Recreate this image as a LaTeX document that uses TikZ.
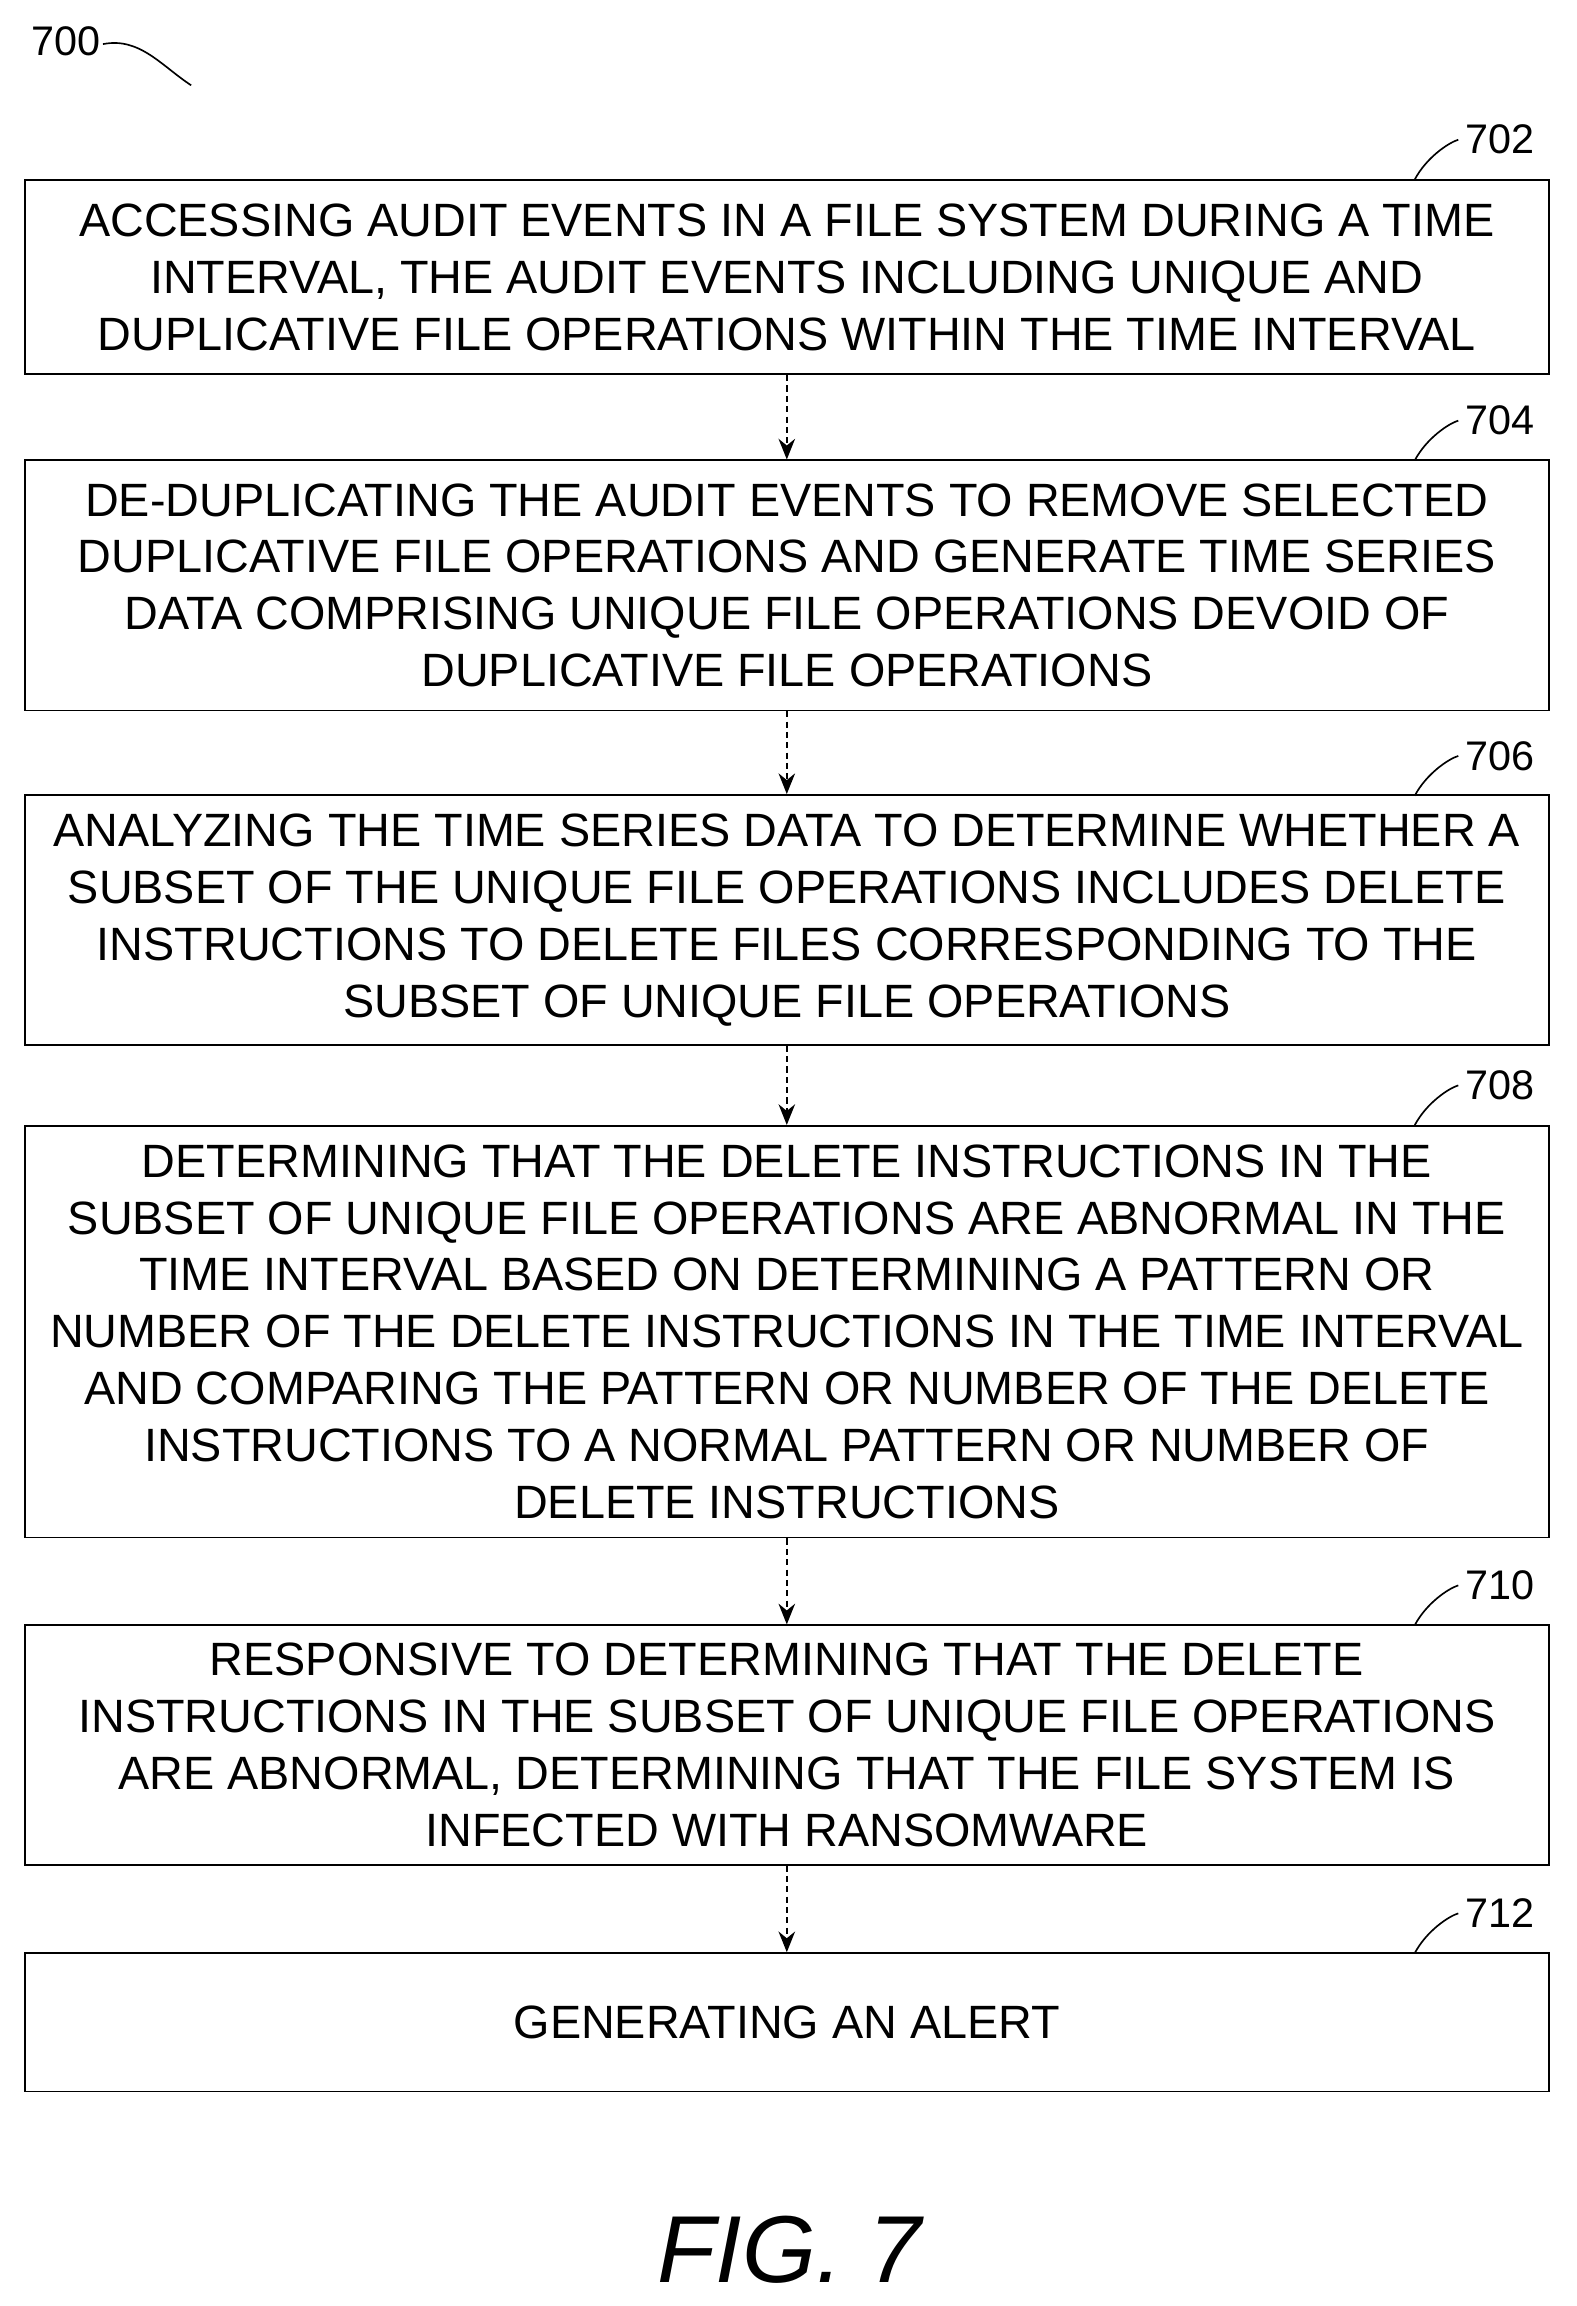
\documentclass[tikz,border=0pt]{standalone}
\usepackage{fontspec}
\setmainfont{Liberation Sans}
\usetikzlibrary{arrows.meta,positioning}
\tikzset{
  stepbox/.style={draw, thick, minimum width=25.9cm, align=center, inner sep=0pt,
    font=\fontsize{22.6}{27.5}\selectfont},
  flow/.style={thick, densely dashed, -{Stealth[length=10pt,width=8pt]}},
  reflabel/.style={font=\fontsize{20}{24}\selectfont}
}
\begin{document}
\begin{tikzpicture}[x=0.025cm, y=-0.025cm]
  \useasboundingbox (0,0) rectangle (1072,1568);

  \node[reflabel] (fig) at (45,28) {700};
  \draw[thick] (70,30) .. controls (95,25) and (110,45) .. (130,58);

  \node[stepbox, minimum height=3.3cm] (s702) at (535,188.5) {ACCESSING AUDIT EVENTS IN A FILE SYSTEM DURING A TIME\\INTERVAL, THE AUDIT EVENTS INCLUDING UNIQUE AND\\DUPLICATIVE FILE OPERATIONS WITHIN THE TIME INTERVAL};
  \node[stepbox, minimum height=4.25cm] (s704) at (535,398) {DE-DUPLICATING THE AUDIT EVENTS TO REMOVE SELECTED\\DUPLICATIVE FILE OPERATIONS AND GENERATE TIME SERIES\\DATA COMPRISING UNIQUE FILE OPERATIONS DEVOID OF\\DUPLICATIVE FILE OPERATIONS};
  \node[stepbox, minimum height=4.25cm] (s706) at (535,625.5) {ANALYZING THE TIME SERIES DATA TO DETERMINE WHETHER A\\SUBSET OF THE UNIQUE FILE OPERATIONS INCLUDES DELETE\\INSTRUCTIONS TO DELETE FILES CORRESPONDING TO THE\\SUBSET OF UNIQUE FILE OPERATIONS};
  \node[stepbox, minimum height=7.0cm] (s708) at (535,905.5) {DETERMINING THAT THE DELETE INSTRUCTIONS IN THE\\SUBSET OF UNIQUE FILE OPERATIONS ARE ABNORMAL IN THE\\TIME INTERVAL BASED ON DETERMINING A PATTERN OR\\NUMBER OF THE DELETE INSTRUCTIONS IN THE TIME INTERVAL\\AND COMPARING THE PATTERN OR NUMBER OF THE DELETE\\INSTRUCTIONS TO A NORMAL PATTERN OR NUMBER OF\\DELETE INSTRUCTIONS};
  \node[stepbox, minimum height=4.07cm] (s710) at (535,1186.5) {RESPONSIVE TO DETERMINING THAT THE DELETE\\INSTRUCTIONS IN THE SUBSET OF UNIQUE FILE OPERATIONS\\ARE ABNORMAL, DETERMINING THAT THE FILE SYSTEM IS\\INFECTED WITH RANSOMWARE};
  \node[stepbox, minimum height=2.35cm] (s712) at (535,1375) {GENERATING AN ALERT};

  % arrows between steps
  \foreach \a/\b in {s702/s704, s704/s706, s706/s708, s708/s710, s710/s712}
    \draw[flow] (\a.south) -- (\b.north);

  % reference numerals
  \foreach \n/\y in {702/122, 704/313, 706/541, 708/765, 710/1105, 712/1328} {
    \node[reflabel] (r\n) at (1020,\y-27) {\n};
    \draw[thick] (962,\y) .. controls (970,\y-15) and (985,\y-25) .. (r\n.west);
  }

  \node[font=\fontsize{46}{50}\selectfont\itshape] (title) at (537,1530) {FIG. 7};
\end{tikzpicture}
\end{document}
